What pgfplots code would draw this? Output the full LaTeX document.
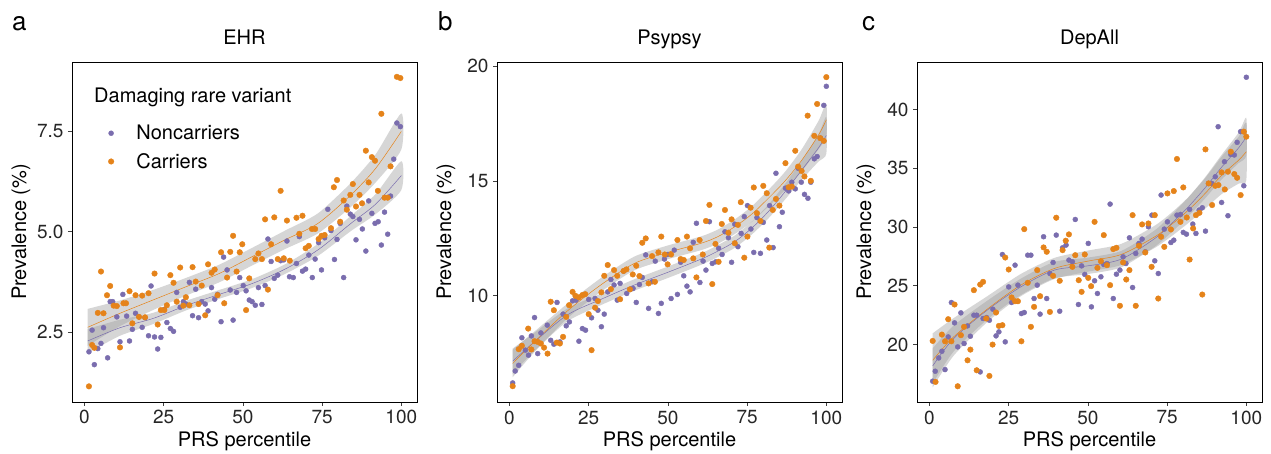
\documentclass[border=0pt]{standalone}
\usepackage{pgfplots}
\pgfplotsset{compat=1.18}
\usepackage{pgfplotstable}
\usepackage{fontspec}
\setmainfont{TeX Gyre Heros}
\definecolor{purp}{HTML}{7A6DAE}
\definecolor{orng}{HTML}{E5831A}
\definecolor{band}{HTML}{999999}

% ---------------- Panel a: EHR ----------------
\pgfplotstableread{
x y
1.4 2.01
2.4 2.55
3.1 1.69
4.2 2.09
5.2 2.22
6.0 2.61
7.3 1.86
8.1 3.26
8.9 3.26
10.2 2.88
11.2 2.26
12.1 3.44
13.3 2.90
14.2 2.28
15.1 2.57
16.1 2.97
17.2 2.88
18.2 2.62
19.1 2.86
20.2 2.41
21.0 3.65
22.1 2.38
23.1 2.08
24.1 2.37
25.2 3.07
26.0 2.74
27.1 2.59
28.1 2.52
29.1 3.49
30.2 3.12
31.2 3.26
32.0 3.20
33.1 3.74
34.1 2.91
35.1 3.57
36.0 2.86
37.0 3.26
38.1 3.20
39.0 3.03
40.1 3.61
41.1 3.32
42.0 3.44
43.1 2.76
43.9 4.37
45.0 4.05
46.0 3.55
46.9 2.80
48.0 3.49
49.0 3.86
50.1 3.66
51.0 3.53
52.0 3.30
52.9 3.26
53.9 3.17
54.9 3.61
56.0 3.19
57.0 3.66
57.9 4.82
58.9 4.26
59.9 3.84
61.0 3.92
61.9 4.28
62.9 4.30
63.9 4.77
64.7 3.88
65.9 3.86
66.9 4.21
67.8 4.88
68.8 4.02
69.8 4.07
70.8 4.42
71.9 3.86
72.8 4.32
73.9 4.73
74.8 4.05
75.8 4.85
76.8 5.56
77.8 5.03
78.9 4.31
79.7 4.81
80.7 5.21
81.8 3.86
82.8 5.64
83.9 5.44
84.7 5.38
85.7 4.80
86.8 5.31
87.7 5.07
88.8 4.52
89.7 5.77
90.7 5.46
91.7 5.21
92.7 5.25
93.7 4.67
94.7 5.49
95.7 4.94
96.6 5.89
97.6 6.81
98.6 7.71
99.7 7.62
}\aN
\pgfplotstableread{
x y
1.4 1.15
2.4 2.18
3.1 2.11
4.2 2.98
5.2 4.01
6.0 2.97
7.1 3.42
8.1 3.65
9.2 3.16
10.2 3.15
11.2 2.12
12.3 3.22
13.1 3.22
14.2 3.52
15.1 2.72
16.1 3.42
17.2 2.88
18.2 3.41
19.1 2.87
20.2 3.47
22.1 3.96
23.1 2.69
24.1 3.05
25.2 3.05
26.0 3.17
27.1 3.92
28.1 3.73
29.1 3.26
30.2 4.11
31.2 3.16
32.0 3.37
33.1 3.17
34.1 4.12
35.1 3.76
36.0 3.20
37.0 3.66
38.1 2.92
39.0 4.19
40.1 3.98
41.1 4.06
42.0 3.42
43.1 4.49
44.1 3.22
45.0 3.86
46.0 4.50
46.9 4.90
48.0 4.01
49.0 4.49
49.8 4.69
51.0 3.05
52.0 3.84
53.9 4.32
54.9 4.46
56.0 4.32
57.0 5.31
57.9 3.56
58.9 4.69
59.9 5.36
61.0 4.32
61.9 6.02
62.9 4.34
63.9 5.28
64.8 4.28
66.9 5.35
67.8 4.95
68.8 5.40
69.8 4.59
70.8 4.65
71.8 5.07
72.8 5.07
73.9 4.82
74.8 4.90
75.8 4.92
77.8 5.09
78.7 6.11
79.7 6.29
80.7 5.25
81.8 5.78
82.8 5.55
83.9 5.92
84.7 6.19
85.7 5.63
86.8 5.92
87.6 5.71
88.8 7.02
89.7 6.23
90.7 6.86
91.7 6.77
92.6 6.02
93.7 7.94
94.7 5.85
95.7 5.85
96.6 6.63
98.6 8.86
99.7 8.83
}\aC
\pgfplotstableread{
x y
1.0 2.28
11.2 2.61
21.6 2.84
32.0 3.16
42.5 3.44
52.9 3.71
63.3 4.07
73.7 4.55
84.1 5.21
91.9 5.69
100.0 6.40
}\afN
\pgfplotstableread{
x y
1.0 2.62
11.2 2.97
21.6 3.30
32.0 3.63
42.5 3.96
52.9 4.38
63.3 4.80
73.7 5.21
84.1 5.92
91.9 6.58
100.0 7.50
}\afC
\pgfplotstableread{
x y
1.0 2.58
11.2 2.81
21.6 2.98
32.0 3.28
42.5 3.55
52.9 3.82
63.3 4.19
73.7 4.70
84.1 5.40
91.9 5.94
100.0 6.76
100.0 6.04
91.9 5.44
84.1 5.02
73.7 4.40
63.3 3.95
52.9 3.60
42.5 3.33
32.0 3.04
21.6 2.70
11.2 2.41
1.0 1.98
}\arN
\pgfplotstableread{
x y
1.0 3.08
11.2 3.29
21.6 3.55
32.0 3.85
42.5 4.18
52.9 4.60
63.3 5.03
73.7 5.46
84.1 6.22
91.9 6.93
100.0 7.95
100.0 7.05
91.9 6.23
84.1 5.62
73.7 4.96
63.3 4.57
52.9 4.16
42.5 3.74
32.0 3.41
21.6 3.05
11.2 2.65
1.0 2.16
}\arC

% ---------------- Panel b: Psypsy ----------------
\pgfplotstableread{
x y
1.0 6.20
1.8 6.72
2.9 6.97
3.9 8.17
5.0 7.63
6.0 7.41
6.9 8.25
7.9 9.05
8.9 7.48
9.9 8.38
11.9 8.72
13.0 8.06
14.0 7.89
15.0 9.71
15.9 7.99
16.9 9.20
17.9 8.69
18.9 8.86
19.9 9.78
21.0 9.81
21.9 8.02
23.0 8.57
24.0 8.50
25.0 9.84
25.9 9.04
27.0 9.88
27.9 9.37
29.0 8.65
29.9 9.20
31.0 10.17
32.0 10.71
33.0 10.47
34.0 9.81
34.9 10.54
36.0 11.08
37.0 10.10
38.1 10.28
39.0 10.32
40.0 9.71
41.0 10.49
41.9 10.80
43.0 11.78
43.9 9.45
45.0 10.61
46.0 11.51
47.0 9.23
47.9 9.67
48.9 11.60
49.9 11.80
51.0 9.88
52.0 11.99
53.0 10.06
54.0 11.46
55.0 10.87
56.0 10.42
57.0 10.17
58.0 12.33
59.0 13.16
60.1 10.58
61.1 11.51
62.0 11.12
63.1 13.23
64.0 11.41
65.1 11.48
66.0 12.07
67.1 11.80
68.0 12.79
69.1 12.53
70.1 11.46
71.1 13.12
72.1 12.14
73.1 12.72
74.1 13.45
75.1 13.93
76.2 12.91
77.1 11.89
78.1 13.41
79.2 11.85
80.1 13.20
81.2 12.43
82.1 13.93
83.2 12.10
84.1 15.34
85.2 13.01
86.1 13.64
87.1 14.69
88.1 14.57
89.1 14.95
90.2 14.66
91.1 15.56
92.1 14.95
93.1 14.42
94.2 14.25
95.1 14.95
96.2 15.97
97.1 16.07
98.1 16.87
99.2 18.30
100.0 19.13
}\bN
\pgfplotstableread{
x y
1.0 6.06
2.9 7.67
3.9 7.82
5.9 8.57
6.9 7.66
7.9 8.02
8.9 7.99
9.9 7.92
10.9 7.74
12.0 7.48
13.0 9.74
14.0 9.37
14.9 7.96
15.9 7.92
16.9 8.21
17.9 9.08
18.8 9.59
19.9 10.17
20.8 10.00
21.9 9.93
23.0 10.03
23.9 10.07
25.0 9.20
25.9 7.63
27.0 9.48
27.9 9.77
29.0 10.15
29.9 10.87
31.0 11.34
32.0 10.29
33.0 11.12
34.0 10.87
34.9 9.85
36.0 11.08
36.9 11.15
38.0 10.28
38.9 10.93
40.0 11.31
41.0 10.86
41.9 12.31
43.0 12.50
43.9 10.54
45.0 11.73
45.9 10.61
47.0 11.89
47.9 12.58
49.0 11.80
49.9 11.37
51.0 11.80
53.0 12.43
54.0 11.60
55.0 11.56
56.0 12.58
57.0 12.07
58.0 11.63
59.0 10.80
60.0 12.43
61.0 11.80
62.0 13.26
63.1 13.96
64.0 10.51
65.0 12.26
66.0 11.48
67.0 13.13
68.0 13.74
69.1 12.75
70.1 13.33
71.1 12.29
72.1 13.09
73.0 14.08
74.1 11.66
75.1 12.58
76.1 13.84
77.1 14.72
78.1 13.60
79.2 13.26
80.1 14.79
81.2 14.47
82.0 12.10
83.1 13.74
84.1 14.22
85.2 13.93
87.1 15.78
88.1 14.73
89.1 14.76
90.2 16.32
91.1 15.63
92.2 15.44
93.1 15.20
94.1 17.85
95.1 15.01
96.2 16.97
97.1 18.36
98.1 16.87
99.2 16.75
100.0 19.53
}\bC
\pgfplotstableread{
x y
1.0 7.15
7.6 7.96
18.2 9.16
28.8 9.84
39.4 10.47
49.9 11.02
60.5 11.60
65.8 11.95
71.1 12.36
76.4 12.94
81.7 13.67
87.0 14.54
92.3 15.49
97.6 16.46
100.0 16.99
}\bfN
\pgfplotstableread{
x y
1.0 7.05
7.6 7.96
18.2 9.33
28.8 10.47
39.4 11.41
49.9 11.89
60.5 12.29
65.8 12.58
71.1 13.01
76.4 13.55
81.7 14.25
87.0 15.01
92.3 15.92
97.6 17.02
100.0 17.67
}\bfC
\pgfplotstableread{
x y
1.0 7.70
7.6 8.36
18.2 9.44
28.8 10.09
39.4 10.72
49.9 11.27
60.5 11.85
65.8 12.21
71.1 12.63
76.4 13.22
81.7 13.97
87.0 14.88
92.3 15.91
97.6 17.06
100.0 17.79
100.0 16.19
97.6 15.86
92.3 15.07
87.0 14.20
81.7 13.37
76.4 12.66
71.1 12.09
65.8 11.69
60.5 11.35
49.9 10.77
39.4 10.22
28.8 9.59
18.2 8.88
7.6 7.56
1.0 6.60
}\brN
\pgfplotstableread{
x y
1.0 7.65
7.6 8.41
18.2 9.65
28.8 10.77
39.4 11.71
49.9 12.19
60.5 12.59
65.8 12.89
71.1 13.33
76.4 13.89
81.7 14.61
87.0 15.41
92.3 16.40
97.6 17.64
100.0 18.37
100.0 16.97
97.6 16.40
92.3 15.44
87.0 14.61
81.7 13.89
76.4 13.21
71.1 12.69
65.8 12.27
60.5 11.99
49.9 11.59
39.4 11.11
28.8 10.17
18.2 9.01
7.6 7.51
1.0 6.45
}\brC

% ---------------- Panel c: DepAll ----------------
\pgfplotstableread{
x y
1.0 16.88
1.8 17.73
2.9 18.86
3.9 19.43
4.9 17.87
5.9 20.65
6.9 23.58
7.9 21.85
8.9 19.80
9.9 22.70
10.9 20.09
12.0 21.59
12.9 20.71
14.0 22.50
14.9 22.50
16.0 17.67
16.9 22.22
18.0 22.30
18.9 22.07
20.0 23.01
21.0 20.74
21.9 21.08
23.0 27.67
23.9 20.23
25.0 24.91
25.9 23.58
27.0 26.76
27.9 25.06
29.0 22.64
29.9 22.73
31.0 27.61
32.0 27.61
33.0 23.92
34.0 25.06
34.9 22.59
36.0 29.18
37.0 23.92
38.0 26.05
39.0 26.99
40.0 29.32
41.1 22.84
42.0 28.24
43.1 28.47
44.0 27.19
45.1 27.05
46.0 30.65
47.0 23.41
48.0 26.70
49.0 25.97
50.1 28.61
51.1 23.21
52.1 25.43
53.0 24.35
54.1 25.77
55.0 26.82
56.0 26.90
57.0 31.96
58.0 23.92
59.0 25.99
60.1 26.34
61.1 27.47
62.0 26.90
63.1 29.09
64.1 24.86
65.1 27.76
66.1 28.61
67.1 28.98
68.1 27.90
69.1 30.03
70.2 31.02
71.1 27.13
72.2 26.05
73.1 32.73
74.1 29.83
75.1 30.45
76.2 28.69
77.1 28.89
78.1 31.02
79.2 31.08
80.1 29.55
81.1 29.40
82.1 31.51
83.1 30.26
84.1 29.46
85.1 31.45
86.1 31.65
87.1 29.66
88.1 33.72
89.1 33.72
90.2 34.29
91.1 38.55
92.2 32.10
93.1 35.57
94.2 30.97
95.1 36.19
96.2 36.14
97.1 37.22
98.2 38.13
99.2 33.52
100.0 42.76
}\cN
\pgfplotstableread{
x y
1.0 20.31
1.9 16.82
3.9 20.85
4.9 20.28
5.9 22.16
6.9 20.28
7.9 23.41
8.9 16.45
9.9 20.80
10.9 21.51
12.0 18.66
12.9 19.57
14.0 24.63
14.9 17.81
16.0 25.11
16.9 25.34
17.9 22.22
18.9 17.33
19.9 20.00
21.0 22.73
21.9 21.59
23.0 21.65
23.9 27.41
25.0 26.39
25.9 24.01
27.0 23.69
27.9 23.69
29.0 20.28
29.9 29.83
31.0 25.26
32.0 21.51
33.0 23.21
34.0 26.34
34.9 24.12
36.0 28.27
37.0 27.90
38.0 22.78
39.0 25.85
40.0 30.80
41.1 25.43
42.0 28.04
43.0 28.84
44.0 29.38
45.1 26.62
46.0 27.61
47.1 25.48
48.0 24.49
49.0 27.67
50.1 25.68
51.0 24.97
52.1 30.45
53.0 26.53
54.1 27.10
55.0 29.32
56.0 26.76
57.0 25.06
58.0 28.13
59.0 28.24
60.1 23.30
61.1 26.99
62.1 25.54
63.1 26.34
64.1 31.02
65.1 23.30
66.1 28.41
67.1 30.23
68.1 27.84
69.1 30.31
70.1 26.62
71.1 31.02
72.2 23.92
73.1 29.18
74.1 28.32
75.1 32.87
76.2 29.80
77.1 33.07
78.1 35.80
79.2 30.45
80.1 33.38
81.2 30.82
82.1 27.24
83.2 29.89
84.1 31.02
85.2 31.22
86.1 24.26
87.1 36.62
88.1 33.72
89.2 31.88
90.2 33.52
91.2 33.58
92.2 34.66
93.2 33.21
94.2 34.72
95.1 36.42
96.2 34.52
97.1 34.20
98.2 32.73
99.2 38.13
100.0 37.70
}\cC
\pgfplotstableread{
x y
1.0 18.18
7.6 20.51
18.2 22.93
28.8 24.91
39.4 26.34
49.9 26.70
60.5 27.27
71.1 29.03
76.4 30.31
81.7 31.73
87.0 33.35
92.3 35.14
97.6 36.76
100.0 37.70
}\cfN
\pgfplotstableread{
x y
1.0 18.66
7.6 20.65
18.2 23.01
28.8 25.06
39.4 26.48
49.9 27.10
60.5 27.67
71.1 29.18
76.4 30.23
81.7 31.45
87.0 32.87
92.3 34.43
97.6 35.71
100.0 36.42
}\cfC
\pgfplotstableread{
x y
1.0 19.68
7.6 21.61
18.2 23.73
28.8 25.61
39.4 27.04
49.9 27.40
60.5 27.97
71.1 29.73
76.4 31.06
81.7 32.53
87.0 34.25
92.3 36.19
97.6 38.06
100.0 39.30
100.0 36.10
97.6 35.46
92.3 34.09
87.0 32.45
81.7 30.93
76.4 29.56
71.1 28.33
60.5 26.57
49.9 26.00
39.4 25.64
28.8 24.21
18.2 22.13
7.6 19.41
1.0 16.68
}\crN
\pgfplotstableread{
x y
1.0 20.96
7.6 22.25
18.2 24.11
28.8 26.01
39.4 27.38
49.9 28.00
60.5 28.57
71.1 30.13
76.4 31.23
81.7 32.55
87.0 34.17
92.3 36.03
97.6 37.71
100.0 38.82
100.0 34.02
97.6 33.71
92.3 32.83
87.0 31.57
81.7 30.35
76.4 29.23
71.1 28.23
60.5 26.77
49.9 26.20
39.4 25.58
28.8 24.11
18.2 21.91
7.6 19.05
1.0 16.36
}\crC

\pgfplotsset{
  panel/.style={
    scale only axis, width=345pt, height=340pt,
    xmin=-3.95, xmax=104.95,
    xtick={0,25,50,75,100},
    tick pos=left, tick align=outside, major tick length=4pt,
    every tick/.style={black!75, line width=0.7pt},
    axis line style={black, line width=0.8pt},
    tick label style={font=\fontsize{19}{22}\selectfont, text=black!85},
    /pgf/number format/assume math mode=true,
    xticklabel style={yshift=-1pt}, yticklabel style={xshift=-1pt},
    xlabel={PRS percentile}, ylabel={Prevalence (\%)},
    every axis x label/.style={at={(axis description cs:0.5,-0.13)}, anchor=base, font=\fontsize{20}{23}\selectfont},
    every axis y label/.style={at={(axis description cs:-0.148,0.5)}, rotate=90, anchor=center, font=\fontsize{20}{23}\selectfont},
    title style={font=\fontsize{20}{23}\selectfont, at={(axis description cs:0.5,1)}, anchor=base, yshift=11pt},
  },
  ptN/.style={only marks, mark=*, color=purp, mark size=2.5pt, mark options={draw=none, fill=purp}},
  ptC/.style={only marks, mark=*, color=orng, mark size=2.8pt, mark options={draw=none, fill=orng}},
  rib/.style={fill=band, fill opacity=0.4, draw=none, smooth, tension=0.4, forget plot},
  lnN/.style={purp, line width=0.5pt, smooth, forget plot},
  lnC/.style={orng, line width=0.5pt, smooth, forget plot},
}

\begin{document}
\begin{tikzpicture}

\node[anchor=base west, inner sep=0pt, font=\fontsize{26}{30}\selectfont] at (12pt,423pt) {a};
\node[anchor=base west, inner sep=0pt, font=\fontsize{26}{30}\selectfont] at (438pt,423pt) {b};
\node[anchor=base west, inner sep=0pt, font=\fontsize{26}{30}\selectfont] at (862pt,423pt) {c};

% Panel a
\begin{axis}[panel, at={(72pt,392pt)}, anchor=north west,
  ymin=0.76, ymax=9.23, ytick={2.5,5,7.5}, yticklabels={2.5,5.0,7.5},
  title={EHR},
  legend style={draw=none, fill=none, at={(axis description cs:0.096,0.8206)}, anchor=north west,
    font=\fontsize{20}{23}\selectfont, row sep=12pt, nodes={inner sep=0pt},
    /tikz/every odd column/.append style={column sep=22.5pt}},
  legend cell align=left,
]
\addplot[ptN] table[x=x,y=y]{\aN};
\addlegendentry{Noncarriers}
\addplot[ptC] table[x=x,y=y]{\aC};
\addlegendentry{Carriers}
\addplot[rib] table[x=x,y=y]{\arN} -- cycle;
\addplot[rib] table[x=x,y=y]{\arC} -- cycle;
\addplot[lnN] table[x=x,y=y]{\afN};
\addplot[lnC] table[x=x,y=y]{\afC};
\node[anchor=base west, inner sep=0pt, font=\fontsize{20}{23}\selectfont] at (axis description cs:0.0638,0.882) {Damaging rare variant};
\end{axis}

% Panel b
\begin{axis}[panel, at={(497pt,392pt)}, anchor=north west,
  ymin=5.37, ymax=20.19, ytick={10,15,20},
  title={Psypsy},
]
\addplot[ptN] table[x=x,y=y]{\bN};
\addplot[ptC] table[x=x,y=y]{\bC};
\addplot[rib] table[x=x,y=y]{\brN} -- cycle;
\addplot[rib] table[x=x,y=y]{\brC} -- cycle;
\addplot[lnN] table[x=x,y=y]{\bfN};
\addplot[lnC] table[x=x,y=y]{\bfC};
\end{axis}

% Panel c
\begin{axis}[panel, at={(917pt,392pt)}, anchor=north west,
  ymin=15.11, ymax=44.06, ytick={20,25,30,35,40},
  title={DepAll},
]
\addplot[ptN] table[x=x,y=y]{\cN};
\addplot[ptC] table[x=x,y=y]{\cC};
\addplot[rib] table[x=x,y=y]{\crN} -- cycle;
\addplot[rib] table[x=x,y=y]{\crC} -- cycle;
\addplot[lnN] table[x=x,y=y]{\cfN};
\addplot[lnC] table[x=x,y=y]{\cfC};
\end{axis}

\pgfresetboundingbox
\path[use as bounding box] (0pt,0pt) rectangle (1271pt,454pt);
\end{tikzpicture}
\end{document}
